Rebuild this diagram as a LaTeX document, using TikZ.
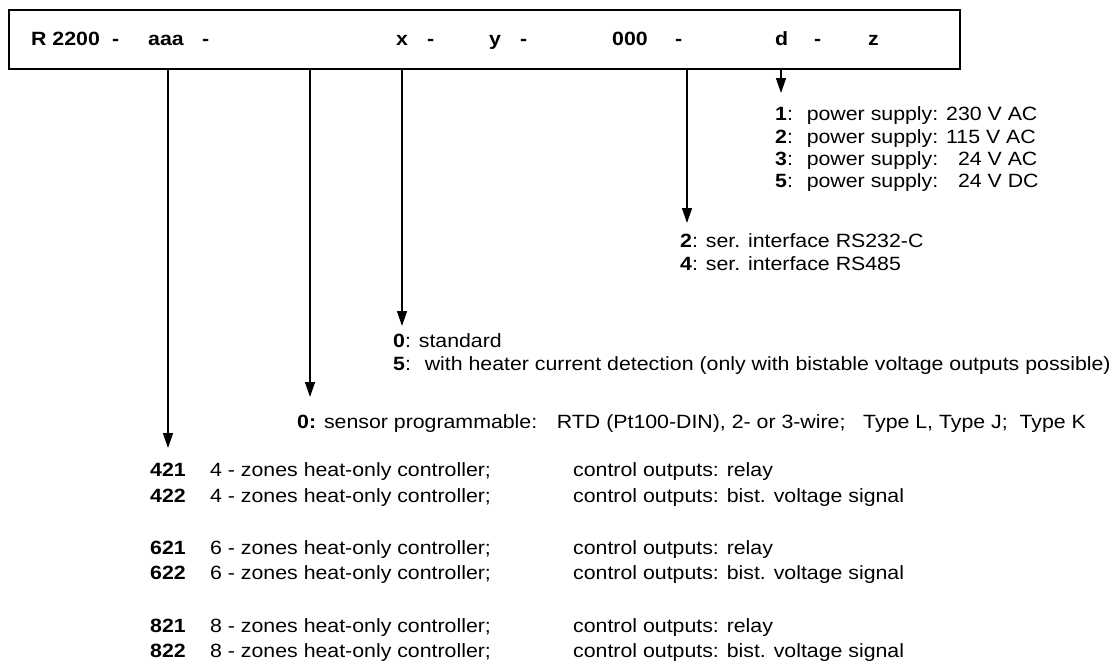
\documentclass[tikz,border=0pt]{standalone}
\usepackage{fontspec}
\setmainfont[FakeStretch=1.11]{Liberation Sans}
\usetikzlibrary{arrows.meta}
\begin{document}
\begin{tikzpicture}[x=1pt,y=-1pt,
  txt/.style={inner sep=0pt, anchor=base west, font=\fontsize{19.2}{22}\selectfont},
  bx/.style={txt, font=\fontsize{19.2}{22}\selectfont\bfseries},
  link/.style={line width=1.4pt, -{Triangle[length=15pt,width=10pt]}},
]
\useasboundingbox (0,0) rectangle (1117,662);

% type code frame
\node[draw, line width=1.8pt, minimum width=951pt, minimum height=59pt,
      inner sep=0pt, anchor=north west] (code) at (8,9) {};
\node[bx] (pR)   at (31,45)  {R 2200};
\node[bx] (d1)   at (112,45) {-};
\node[bx] (paaa) at (148,45) {aaa};
\node[bx] (d2)   at (202,45) {-};
\node[bx] (px)   at (396,45) {x};
\node[bx] (d3)   at (427,45) {-};
\node[bx] (py)   at (489,45) {y};
\node[bx] (d4)   at (520,45) {-};
\node[bx] (p000) at (612,45) {000};
\node[bx] (d5)   at (675,45) {-};
\node[bx] (pd)   at (775,45) {d};
\node[bx] (d6)   at (814,45) {-};
\node[bx] (pz)   at (868,45) {z};

% power supply
\node[txt] (ps1) at (775,120) {\textbf{1}:~ power supply: 230 V AC};
\node[txt] (ps2) at (775,143) {\textbf{2}:~ power supply: 115 V AC};
\node[txt] (ps3) at (775,165) {\textbf{3}:~ power supply: \phantom{2}24 V AC};
\node[txt] (ps5) at (775,187) {\textbf{5}:~ power supply: \phantom{2}24 V DC};

% serial interface
\node[txt] (if2) at (680,247) {\textbf{2}: ser. interface RS232-C};
\node[txt] (if4) at (680,270) {\textbf{4}: ser. interface RS485};

% heater current detection
\node[txt] (hc0) at (393,347) {\textbf{0}: standard};
\node[txt] (hc5) at (393,370) {\textbf{5}:~ with heater current detection (only with bistable voltage outputs possible)};

% sensor
\node[txt] (sn0) at (297,428) {\textbf{0:} sensor programmable:~~ RTD (Pt100-DIN), 2- or 3-wire;~~ Type L, Type J;~ Type K};

% controller variants
\foreach \c/\z/\o/\y in {421/4/relay/476, 422/4/bist. voltage signal/502,
                         621/6/relay/554, 622/6/bist. voltage signal/579,
                         821/8/relay/632, 822/8/bist. voltage signal/657}{
  \node[bx]  (v\c) at (150,\y) {\c};
  \node[txt] (z\c) at (210,\y) {\z\ - zones heat-only controller;};
  \node[txt] (o\c) at (573,\y) {control outputs: \o};
}

% pointers from the code frame
\coordinate (t1) at (168,448);
\coordinate (t2) at (310,397);
\coordinate (t3) at (402,326);
\coordinate (t4) at (687,223);
\coordinate (t5) at (781,93);
\foreach \t in {t1,t2,t3,t4,t5}
  \draw[link] (code.south -| \t) -- (\t);
\end{tikzpicture}
\end{document}
